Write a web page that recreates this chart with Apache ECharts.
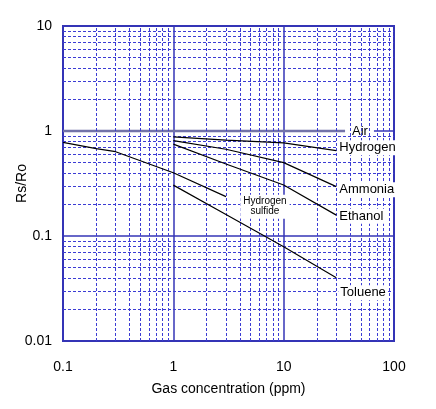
<!DOCTYPE html>
<html>
<head>
<meta charset="utf-8">
<script src="https://cdn.jsdelivr.net/npm/echarts@6/dist/echarts.min.js"></script>
<style>
  html, body { margin: 0; padding: 0; background: #fff; }
  #chart { width: 436px; height: 409px; }
</style>
</head>
<body>
<div id="chart"></div>
<script>
// ---- data ----
const air      = [[0.1, 1], [36, 1]];
const hydrogen = [[1, 0.88], [3, 0.82], [10, 0.77], [30, 0.65]];
const ammonia  = [[1, 0.81], [3, 0.67], [10, 0.50], [30, 0.295]];
const ethanol  = [[1, 0.75], [3, 0.485], [10, 0.306], [30, 0.158]];
const h2s      = [[0.1, 0.78], [0.2, 0.68], [0.3, 0.635], [1, 0.40], [3, 0.237]];
const toluene  = [[1, 0.305], [3, 0.16], [10, 0.079], [30, 0.040]];

const xTickLabels = ['0.1', '1', '10', '100'];
const yTickLabels = ['0.01', '0.1', '1', '10'];

const minorX = [];
[0.1, 1, 10].forEach(d => { for (let k = 2; k <= 9; k++) minorX.push(+(d * k).toPrecision(3)); });
const minorY = [];
[0.01, 0.1, 1].forEach(d => { for (let k = 2; k <= 9; k++) minorY.push(+(d * k).toPrecision(3)); });

const FONT = 'Liberation Sans, Arial, sans-serif';
const BLUE = '#3434b6';

const chart = echarts.init(document.getElementById('chart'), null, { renderer: 'canvas' });

function curve(name, data, label) {
  return {
    name, type: 'line', data, symbol: 'none', showSymbol: false, z: 5,
    lineStyle: { color: '#000', width: 1.2 },
    endLabel: Object.assign({
      show: true, formatter: name, color: '#000', fontFamily: FONT, fontSize: 13,
      backgroundColor: '#fff', padding: [1, 2], distance: 1
    }, label)
  };
}

const option = {
  animation: false,
  backgroundColor: '#fff',
  grid: { left: 63, top: 26, right: 42, bottom: 68, containLabel: false, outerBoundsMode: 'none',
    show: true, borderColor: BLUE, borderWidth: 2, backgroundColor: '#fff' },
  xAxis: {
    type: 'log', logBase: 10, min: 0.1, max: 100,
    name: 'Gas concentration (ppm)', nameLocation: 'middle', nameGap: 41, nameMoveOverlap: false,
    nameTextStyle: { color: '#000', fontSize: 14, fontFamily: FONT },
    axisLine: { show: true, lineStyle: { color: BLUE, width: 2 } },
    axisTick: { show: false },
    axisLabel: { color: '#000', fontSize: 14, fontFamily: FONT, margin: 19,
      showMinLabel: true, showMaxLabel: true,
      formatter: v => xTickLabels.find(t => Math.abs(parseFloat(t) - v) < 1e-9 * Math.max(1, v)) || '' },
    splitLine: { show: true, lineStyle: { color: BLUE, width: 1.5 } }
  },
  yAxis: {
    type: 'log', logBase: 10, min: 0.01, max: 10,
    name: 'Rs/Ro', nameLocation: 'middle', nameGap: 34, nameMoveOverlap: false,
    nameTextStyle: { color: '#000', fontSize: 14, fontFamily: FONT },
    axisLine: { show: true, lineStyle: { color: BLUE, width: 2 } },
    axisTick: { show: false },
    axisLabel: { color: '#000', fontSize: 14, fontFamily: FONT, margin: 11,
      showMinLabel: true, showMaxLabel: true,
      formatter: v => yTickLabels.find(t => Math.abs(parseFloat(t) - v) < 1e-6 * v) || '' },
    splitLine: { show: true, lineStyle: { color: BLUE, width: 1.5 } }
  },
  series: [
    {
      name: 'minorGrid', type: 'line', data: [], z: 1, silent: true,
      markLine: {
        silent: true, symbol: 'none', label: { show: false },
        lineStyle: { color: '#3c3cd4', width: 1, type: [3, 2] },
        emphasis: { disabled: true },
        data: minorX.map(v => ({ xAxis: v })).concat(minorY.map(v => ({ yAxis: v })))
      }
    },
    {
      name: 'Air', type: 'line', data: air, symbol: 'none', showSymbol: false, z: 4,
      lineStyle: { color: '#7272a8', width: 2.5 },
      endLabel: { show: true, formatter: 'Air', color: '#000', fontFamily: FONT, fontSize: 13,
        backgroundColor: '#fff', padding: [1, 6, 1, 7], distance: 0 }
    },
    curve('Hydrogen', hydrogen, { offset: [0, -3] }),
    curve('Ammonia', ammonia, { offset: [0, 3] }),
    curve('Ethanol', ethanol, { offset: [0, 1] }),
    curve('Toluene', toluene, { offset: [1, 15] }),
    curve('Hydrogen sulfide', h2s, { formatter: 'Hydrogen\nsulfide', fontSize: 10, lineHeight: 10,
      align: 'center', distance: 0, offset: [39, 10], padding: [2, 3] })
  ]
};
chart.setOption(option);
</script>
</body>
</html>
